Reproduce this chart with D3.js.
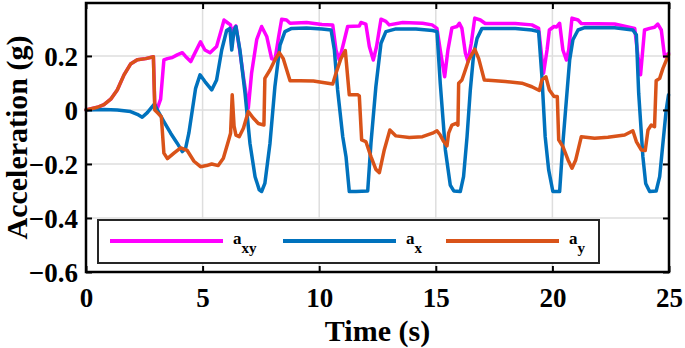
<!DOCTYPE html>
<html>
<head>
<meta charset="utf-8">
<script src="https://cdn.jsdelivr.net/npm/d3@7"></script>
<style>
  body { margin: 0; background: #fff; }
  svg { display: block; font-family: "Liberation Serif", "Times New Roman", serif; font-weight: bold; }
</style>
</head>
<body>
<svg width="685" height="348"></svg>
<script>
// a_xy (magenta)
const axyT = [0, 0.5, 0.77, 1.06, 1.34, 1.63, 1.91, 2.2, 2.56, 2.89, 2.95, 3.06, 3.2, 3.34, 3.49, 3.7, 3.91, 4.13, 4.27, 4.49, 4.7, 4.91,
  5.1, 5.32, 5.6, 5.82, 5.92, 6.1, 6.2, 6.25, 6.32, 6.43, 6.6, 6.77, 6.96, 7.1, 7.32, 7.53, 7.75, 7.96, 8.1, 8.25, 8.39, 8.6, 8.75, 9.46, 10.12,
  10.58, 10.72, 10.86, 11.01, 11.22, 11.72, 11.79, 12.0, 12.15, 12.32, 12.46, 12.65, 12.86, 13.0, 13.58, 14.43, 14.84, 15.05, 15.19, 15.38,
  15.52, 15.69, 15.91, 16.01, 16.12, 16.27, 16.38, 16.52, 16.67, 16.91, 17.12, 18.41, 19.12, 19.41, 19.62, 19.77, 19.87, 20.07, 20.17,
  20.31, 20.45, 20.6, 20.7, 20.84, 21.1, 21.24, 22.67, 23.53, 23.67, 23.78, 23.95, 24.17, 24.38, 24.52, 24.67, 24.81, 24.98];
const axyV = [0, 0.01, 0.02, 0.04, 0.074, 0.13, 0.17, 0.186, 0.19, 0.197, 0.02, 0.006, 0.04, 0.185, 0.19, 0.194, 0.204, 0.212, 0.198, 0.179, 0.216, 0.252,
  0.222, 0.212, 0.235, 0.302, 0.333, 0.321, 0.315, 0.235, 0.3, 0.311, 0.216, 0.111, 0.006, 0.136, 0.26, 0.309, 0.272, 0.19, 0.185, 0.265, 0.336, 0.333, 0.321, 0.324, 0.316,
  0.315, 0.222, 0.185, 0.235, 0.309, 0.311, 0.324, 0.318, 0.235, 0.185, 0.235, 0.336, 0.328, 0.315, 0.324, 0.321, 0.315, 0.302, 0.222, 0.123,
  0.222, 0.304, 0.309, 0.321, 0.302, 0.21, 0.179, 0.247, 0.34, 0.333, 0.32, 0.32, 0.315, 0.302, 0.136, 0.222, 0.296, 0.309, 0.307,
  0.321, 0.222, 0.185, 0.222, 0.34, 0.333, 0.32, 0.318, 0.302, 0.198, 0.13, 0.296, 0.302, 0.306, 0.318, 0.296, 0.198, 0.21];

// a_x (blue)
const axT = [0, 0.77, 1.34, 1.91, 2.2, 2.41, 2.63, 2.84, 2.94, 3.06, 3.34, 3.63, 3.91, 4.13, 4.27, 4.41, 4.56, 4.7, 4.89,
  5.1, 5.39, 5.6, 5.82, 6.03, 6.17, 6.25, 6.35, 6.43, 6.6, 6.82, 7.03, 7.25, 7.43, 7.53, 7.67, 7.89, 8.1, 8.32, 8.53, 8.82, 9.46, 10.12,
  10.51, 10.65, 10.79, 11.01, 11.15, 11.29, 11.58, 12.08, 12.22, 12.43, 12.65, 12.86, 13.29, 14.15, 14.86,
  15.05, 15.19, 15.41, 15.62, 15.77, 16.05, 16.19, 16.34, 16.48, 16.62, 16.77, 16.98, 18.41, 19.12, 19.41, 19.55, 19.69, 19.84,
  20.02, 20.31, 20.45, 20.6, 20.74, 20.88, 21.1, 21.38, 22.67, 23.45, 23.6, 23.7, 23.88, 24.0, 24.17, 24.45, 24.6, 24.74, 24.88, 24.98];
const axV = [0, 0.002, 0, -0.006, -0.016, -0.027, -0.01, 0.012, 0.022, 0, -0.043, -0.086, -0.123, -0.154, -0.142, -0.086, 0, 0.08, 0.13,
  0.105, 0.074, 0.111, 0.222, 0.294, 0.302, 0.222, 0.296, 0.309, 0.222, 0.062, -0.123, -0.247, -0.296, -0.302, -0.272, -0.123, 0.086, 0.24, 0.29, 0.302, 0.303, 0.3,
  0.296, 0.222, 0.074, -0.099, -0.173, -0.302, -0.302, -0.3, -0.123, 0.086, 0.247, 0.29, 0.3, 0.3, 0.294,
  0.29, 0.099, -0.148, -0.278, -0.3, -0.302, -0.247, -0.099, 0.074, 0.204, 0.265, 0.302, 0.302, 0.296, 0.29, 0.123, -0.099, -0.222,
  -0.302, -0.302, -0.123, 0.037, 0.185, 0.26, 0.296, 0.305, 0.304, 0.296, 0.278, 0.062, -0.173, -0.272, -0.302, -0.3, -0.247, -0.123, 0, 0.056];

// a_y (orange)
const ayT = [0, 0.49, 0.77, 1.06, 1.34, 1.63, 1.91, 2.2, 2.56, 2.89, 2.95, 3.06, 3.23, 3.34, 3.49, 3.77, 4.06, 4.34, 4.63, 4.91,
  5.17, 5.39, 5.67, 5.89, 6.1, 6.2, 6.27, 6.35, 6.43, 6.57, 6.75, 6.96, 7.17, 7.39, 7.63, 7.67, 7.89, 8.1, 8.29, 8.46, 8.75, 9.17, 9.75,
  10.58, 10.72, 10.93, 11.12, 11.22, 11.29, 11.65, 11.72, 11.82, 12.0, 12.22, 12.43, 12.58, 12.79, 13.03, 13.29, 13.86, 14.43, 14.86, 15.05,
  15.19, 15.34, 15.48, 15.55, 15.69, 15.87, 15.95, 15.98, 16.12, 16.22, 16.41, 16.67, 16.84, 17.08, 17.41, 17.98, 18.69, 19.12, 19.44,
  19.55, 19.72, 19.87, 20.07, 20.21, 20.27, 20.45, 20.67, 20.84, 21.0, 21.24, 21.81, 22.38, 23.1, 23.45, 23.6, 23.81, 23.98, 24.1,
  24.24, 24.38, 24.45, 24.6, 24.74, 24.98];
const ayV = [0, 0.01, 0.02, 0.04, 0.074, 0.13, 0.17, 0.186, 0.19, 0.197, 0.0, -0.01, -0.025, -0.16, -0.18, -0.16, -0.14, -0.15, -0.19, -0.21,
  -0.206, -0.2, -0.206, -0.179, -0.117, -0.086, 0.056, -0.06, -0.093, -0.099, -0.068, -0.006, -0.03, -0.05, -0.056, 0.117, 0.148, 0.185, 0.212, 0.19, 0.108, 0.108, 0.107,
  0.096, 0.136, 0.19, 0.22, 0.123, 0.056, 0.056, 0.052, -0.111, -0.117, -0.173, -0.22, -0.232, -0.148, -0.074, -0.096, -0.102, -0.099, -0.086, -0.077,
  -0.093, -0.117, -0.133, -0.086, -0.056, -0.05, -0.056, 0.099, 0.111, 0.136, 0.185, 0.225, 0.19, 0.111, 0.109, 0.105, 0.099, 0.086, 0.072,
  0.111, 0.123, 0.074, 0.05, 0.05, -0.111, -0.136, -0.185, -0.216, -0.185, -0.099, -0.105, -0.101, -0.093, -0.077, -0.117, -0.148, -0.15, -0.074,
  -0.056, -0.062, 0.108, 0.117, 0.154, 0.204];

const xTicks = [0, 5, 10, 15, 20, 25];
const yTicks = [-0.6, -0.4, -0.2, 0, 0.2];
const legendLabels = [["a", "xy"], ["a", "x"], ["a", "y"]];
const colors = ["#FF00FF", "#0072BD", "#D95319"];

const margin = { left: 86, right: 16, top: 3, bottom: 76 };
const svg = d3.select("svg");
const width = 685 - margin.left - margin.right;
const height = 348 - margin.top - margin.bottom;

const g = svg.append("g").attr("transform", `translate(${margin.left},${margin.top})`);

const x = d3.scaleLinear().domain([0, 25]).range([0, width]);
const y = d3.scaleLinear().domain([-0.6, 0.396]).range([height, 0]);

// grid
g.append("g").selectAll("line").data(xTicks.slice(1, -1)).join("line")
  .attr("x1", d => x(d)).attr("x2", d => x(d)).attr("y1", 0).attr("y2", height)
  .attr("stroke", "#dedede").attr("stroke-width", 1.5);
g.append("g").selectAll("line").data(yTicks.slice(1)).join("line")
  .attr("y1", d => y(d)).attr("y2", d => y(d)).attr("x1", 0).attr("x2", width)
  .attr("stroke", "#dedede").attr("stroke-width", 1.5);

const series = [
  axyT.map((t, i) => [t, axyV[i]]),
  axT.map((t, i) => [t, axV[i]]),
  ayT.map((t, i) => [t, ayV[i]])
];

const line = d3.line().x(d => x(d[0])).y(d => y(d[1]));

g.append("g").selectAll("path").data(series).join("path")
  .attr("d", line)
  .attr("fill", "none")
  .attr("stroke", (d, i) => colors[i])
  .attr("stroke-width", 3.5)
  .attr("stroke-linejoin", "round")
  .attr("stroke-linecap", "round");

// axes (ticks pointing in)
const xAxis = g.append("g").attr("transform", `translate(0,${height})`)
  .call(d3.axisBottom(x).tickValues(xTicks).tickSize(-6).tickSizeOuter(0).tickFormat(d3.format("d")));
xAxis.selectAll("text").attr("y", 35).attr("dy", null);

const yAxis = g.append("g")
  .call(d3.axisLeft(y).tickValues(yTicks).tickSize(-6).tickSizeOuter(0).tickFormat(d => d === 0 ? "0" : d3.format(".1f")(d)));
yAxis.selectAll("text").attr("x", -8).attr("dy", "0.34em");

g.append("g").call(d3.axisTop(x).tickValues(xTicks).tickSize(-6).tickSizeOuter(0).tickFormat(""));
g.append("g").attr("transform", `translate(${width},0)`)
  .call(d3.axisRight(y).tickValues(yTicks).tickSize(-6).tickSizeOuter(0).tickFormat(""));

g.selectAll(".domain").remove();
g.selectAll(".tick line").attr("stroke", "#000").attr("stroke-width", 2);
g.selectAll(".tick text").attr("fill", "#000").attr("font-size", 27).attr("font-weight", "bold")
  .attr("font-family", "Liberation Serif, Times New Roman, serif");

g.append("rect").attr("width", width).attr("height", height)
  .attr("fill", "none").attr("stroke", "#000").attr("stroke-width", 2.5);

// axis labels
svg.append("text").attr("x", margin.left + width / 2).attr("y", 341)
  .attr("text-anchor", "middle").attr("font-size", 30).text("Time (s)");
svg.append("text")
  .attr("transform", `translate(27,${margin.top + height / 2}) rotate(-90)`)
  .attr("text-anchor", "middle").attr("font-size", 30).text("Acceleration (g)");

// legend
const legend = svg.append("g");
legend.append("rect").attr("x", 98).attr("y", 220).attr("width", 501).attr("height", 43)
  .attr("fill", "#fff").attr("stroke", "#262626").attr("stroke-width", 2);
const legendX = [110, 283, 446];
legendLabels.forEach((lab, i) => {
  const it = legend.append("g").attr("transform", `translate(${legendX[i]},241)`);
  it.append("line").attr("x1", 0).attr("x2", 113)
    .attr("stroke", colors[i]).attr("stroke-width", 4);
  const txt = it.append("text").attr("x", 123).attr("y", 3).attr("font-size", 17);
  txt.append("tspan").text(lab[0]);
  txt.append("tspan").attr("dy", 9).attr("font-size", 15).text(lab[1]);
});
</script>
</body>
</html>
